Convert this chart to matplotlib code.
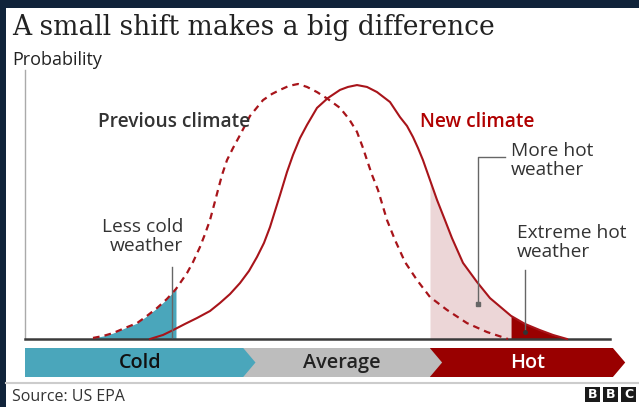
import numpy as np
import matplotlib
matplotlib.use("Agg")
import matplotlib.pyplot as plt
from matplotlib.patches import Polygon, Rectangle

# previous climate (dashed): temperature (0-100 across the axis) vs probability
prev_x = [11.62, 13.33, 15.04, 17.09, 19.15, 20.85, 22.56, 24.27, 25.81, 27.69, 28.72, 29.91,
          30.77, 31.62, 32.31, 32.99, 33.68, 34.53, 35.56, 36.75, 38.46, 40.68, 42.22, 43.59,
          45.13, 46.67, 48.21, 49.91, 51.79, 53.85, 55.38, 56.75, 57.78, 58.46, 59.32, 60.34,
          61.88, 63.25, 64.96, 67.01, 69.23, 72.14, 75.56, 78.97, 82.56]
prev_y = [0.004, 0.011, 0.022, 0.041, 0.059, 0.086, 0.115, 0.149, 0.186, 0.245, 0.286, 0.342,
          0.390, 0.442, 0.498, 0.554, 0.610, 0.665, 0.710, 0.758, 0.829, 0.888, 0.911, 0.926,
          0.941, 0.948, 0.937, 0.918, 0.892, 0.859, 0.818, 0.770, 0.710, 0.665, 0.610, 0.554,
          0.442, 0.368, 0.286, 0.219, 0.156, 0.108, 0.059, 0.026, 0.0]

# new climate (solid)
new_x = [21.37, 23.59, 25.30, 27.35, 29.40, 31.62, 33.33, 35.04, 36.75, 38.29, 39.66, 40.85,
         41.88, 42.74, 43.59, 44.79, 45.81, 47.01, 48.21, 49.91, 51.79, 53.85, 55.21, 56.75,
         58.46, 60.17, 62.39, 64.10, 65.30, 66.32, 67.18, 68.03, 69.23, 70.43, 71.79, 72.99,
         74.87, 77.26, 79.49, 83.08, 85.47, 88.03, 90.26, 92.65]
new_y = [0.0, 0.015, 0.033, 0.056, 0.078, 0.104, 0.134, 0.167, 0.208, 0.253, 0.305, 0.357,
         0.416, 0.476, 0.535, 0.621, 0.684, 0.747, 0.796, 0.859, 0.896, 0.926, 0.937, 0.944,
         0.937, 0.918, 0.881, 0.825, 0.792, 0.751, 0.710, 0.665, 0.591, 0.517, 0.442, 0.375,
         0.283, 0.212, 0.152, 0.086, 0.056, 0.033, 0.015, 0.0]

cold_end = 25.81       # less cold weather, shaded under previous curve
hot_start = 69.23      # more hot weather
extreme_start = 83.08  # extreme hot weather

bands = ["Cold", "Average", "Hot"]
band_start = [0.0, 37.0, 69.2]
band_end = [37.3, 69.2, 100.5]
band_colors = ["#4aa6bb", "#bdbdbd", "#990000"]
band_text = ["#111111", "#222222", "white"]

RED = "#a8141a"
W, H = 639, 407

fig = plt.figure(figsize=(W / 100, H / 100), dpi=100, facecolor="#10233a")
fig.patches.append(Rectangle((6 / W, 0), 1 - 6 / W, (H - 8) / H, transform=fig.transFigure,
                             facecolor="white", edgecolor="none", zorder=-5))

sans = "Open Sans"
fs = 13.8

fig.text(12 / W, (H - 35) / H, "A small shift makes a big difference", fontfamily="DejaVu Serif",
         fontsize=19.1, color="#222222", va="baseline")
fig.text(12 / W, (H - 65) / H, "Probability", fontfamily=sans, fontsize=13, color="#222222",
         va="baseline")

ax = fig.add_axes([25 / W, (H - 339) / H, 585 / W, 269 / H])
ax.set_xlim(0, 100)
ax.set_ylim(0, 1)
ax.set_facecolor("none")
for s in ["top", "right"]:
    ax.spines[s].set_visible(False)
ax.spines["left"].set_color("#aaaaaa")
ax.spines["left"].set_linewidth(1.0)
ax.spines["bottom"].set_color("#3a3a3a")
ax.spines["bottom"].set_linewidth(1.8)
ax.set_xticks([])
ax.set_yticks([])

px = np.array(prev_x)
py = np.array(prev_y)
nx = np.array(new_x)
ny = np.array(new_y)

ax.fill_between(px, py, where=px <= cold_end, color="#4aa6bb", lw=0, zorder=1)
ax.fill_between(nx, ny, where=(nx >= hot_start) & (nx <= extreme_start), color="#ecd6d7", lw=0, zorder=1)
ax.fill_between(nx, ny, where=nx >= extreme_start, color="#990000", lw=0, zorder=1)

ax.plot(px, py, color=RED, lw=1.6, ls=(0, (3, 2.3)), zorder=3, clip_on=False)
ax.plot(nx, ny, color=RED, lw=1.5, zorder=3, clip_on=False)

ax.text(12.5, 0.807, "Previous climate", fontfamily=sans, fontsize=fs, fontweight="semibold",
        color="#333333", va="center", ha="left")
ax.text(67.5, 0.807, "New climate", fontfamily=sans, fontsize=fs, fontweight="semibold",
        color="#b00000", va="center", ha="left")

# leaders
lead = "#666666"
ax.plot([25.1, 25.1], [0.268, 0.007], color=lead, lw=1.0, zorder=4)
ax.text(27.0, 0.450, "Less cold\nweather", fontfamily=sans, fontsize=fs, color="#333333",
        ha="right", va="top", multialignment="right", linespacing=1.1)

ax.plot([77.4, 77.4, 82.1], [0.130, 0.677, 0.677], color=lead, lw=1.0, zorder=4)
ax.plot([77.4], [0.130], marker="s", ms=2.5, color=lead, zorder=4)
ax.text(83.1, 0.732, "More hot\nweather", fontfamily=sans, fontsize=fs, color="#333333",
        ha="left", va="top", linespacing=1.1)

ax.plot([85.5, 85.5], [0.257, 0.026], color=lead, lw=1.0, zorder=4)
ax.plot([85.5], [0.026], marker="o", ms=2.5, color="#333333", zorder=4)
ax.text(84.1, 0.428, "Extreme hot\nweather", fontfamily=sans, fontsize=fs, color="#333333",
        ha="left", va="top", linespacing=1.1)

# category band
bax = fig.add_axes([25 / W, (H - 377) / H, 585 / W, 29 / H])
bax.set_xlim(0, 100)
bax.set_ylim(0, 1)
bax.axis("off")
tip = 2.1
for i in [2, 1, 0]:
    a, b = band_start[i], band_end[i]
    poly = Polygon([(a, 0), (b, 0), (b + tip, 0.5), (b, 1), (a, 1)], closed=True,
                   facecolor=band_colors[i], edgecolor="none", clip_on=False)
    bax.add_patch(poly)
    bax.text((a + b + tip) / 2, 0.47, bands[i], fontfamily=sans, fontsize=14.3,
             fontweight="semibold", color=band_text[i], ha="center", va="center")

# separator and footer
fig.add_artist(plt.Line2D([6 / W, 1], [(H - 383) / H] * 2, color="#cccccc", lw=1.5))
fig.text(12 / W, (H - 401) / H, "Source: US EPA", fontfamily=sans, fontsize=11.5, color="#333333",
         va="baseline")
for k, ch in enumerate("BBC"):
    x0 = (585 + 18 * k) / W
    fig.patches.append(Rectangle((x0, (H - 402) / H), 15 / W, 15 / H, transform=fig.transFigure,
                                 facecolor="#1a1a1a", edgecolor="none", zorder=2))
    fig.text(x0 + 7.5 / W, (H - 394.5) / H, ch, fontfamily="DejaVu Sans", fontsize=9,
             fontweight="bold", color="white", ha="center", va="center", zorder=3)

fig.savefig("out.png", dpi=100, facecolor=fig.get_facecolor())
